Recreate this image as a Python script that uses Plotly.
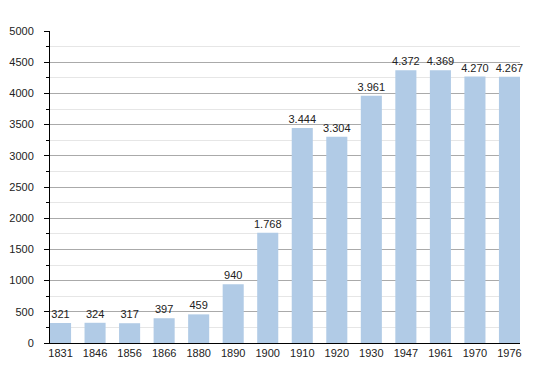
import plotly.graph_objects as go

years = ["1831", "1846", "1856", "1866", "1880", "1890", "1900", "1910", "1920", "1930", "1947", "1961", "1970", "1976"]
population = [321, 324, 317, 397, 459, 940, 1768, 3444, 3304, 3961, 4372, 4369, 4270, 4267]
y_ticks = [0, 500, 1000, 1500, 2000, 2500, 3000, 3500, 4000, 4500, 5000]

bar_frac = 0.61
fig = go.Figure(go.Bar(
    x=years, y=population,
    width=bar_frac,
    marker=dict(color="#b1cbe6", line=dict(width=0)),
    text=population, texttemplate="%{y:,}", textposition="outside",
    textfont=dict(family="Liberation Sans, Arial, sans-serif", size=11, color="#222"),
    constraintext="none",
    cliponaxis=False,
))

fig.update_layout(
    width=550, height=373,
    margin=dict(l=42, r=38, t=23, b=38, autoexpand=False),
    paper_bgcolor="white", plot_bgcolor="white",
    separators=",.",
    showlegend=False,
    font=dict(family="Liberation Sans, Arial, sans-serif", size=11, color="#222"),
)
fig.update_xaxes(
    type="category", range=[-bar_frac / 2, len(years) - 1 + bar_frac / 2],
    showline=True, linecolor="black", linewidth=1, automargin=False,
    ticks="", tickfont=dict(size=11), showgrid=False,
)
fig.update_yaxes(
    range=[0, 5000], tickvals=y_ticks, tickformat="d", automargin=False,
    showline=True, linecolor="black", linewidth=1,
    ticks="outside", ticklen=5, tickcolor="black",
    ticklabelstandoff=8,
    showgrid=True, gridcolor="#aaaaaa", gridwidth=1,
    zeroline=False,
    minor=dict(dtick=250, tick0=0, showgrid=True, gridcolor="#e6e6e6",
               ticks="outside", ticklen=3, tickcolor="black"),
    tickfont=dict(size=11),
)

fig.write_html("out.html")
